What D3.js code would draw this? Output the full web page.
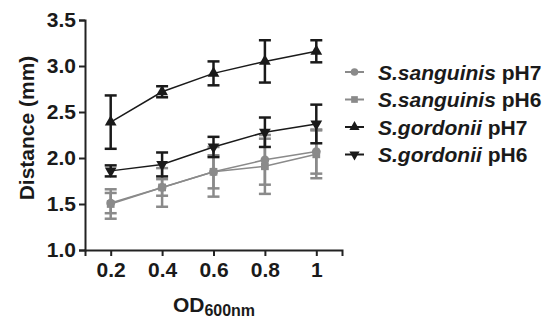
<!DOCTYPE html>
<html>
<head>
<meta charset="utf-8">
<script src="https://cdn.jsdelivr.net/npm/d3@7"></script>
<style>
  body { margin: 0; background: #fff; }
  svg text { font-family: "Liberation Sans", Arial, sans-serif; font-weight: bold; }
</style>
</head>
<body>
<svg id="chart" width="542" height="324"></svg>
<script>
var odValues = [0.2, 0.4, 0.6, 0.8, 1];
var xTickLabels = ["0.2", "0.4", "0.6", "0.8", "1"];
var yTicks = [1.0, 1.5, 2.0, 2.5, 3.0, 3.5];

var seriesNames = ["S.sanguinis", "S.sanguinis", "S.gordonii", "S.gordonii"];
var seriesPH = ["pH7", "pH6", "pH7", "pH6"];

var sanguinisPH7 = [1.51, 1.68, 1.85, 1.98, 2.07];
var sanguinisPH7Err = [0.11, 0.09, 0.18, 0.27, 0.24];
var sanguinisPH6 = [1.50, 1.68, 1.85, 1.91, 2.04];
var sanguinisPH6Err = [0.16, 0.21, 0.27, 0.30, 0.26];
var gordoniiPH7 = [2.39, 2.72, 2.92, 3.05, 3.16];
var gordoniiPH7Err = [0.29, 0.06, 0.13, 0.23, 0.12];
var gordoniiPH6 = [1.86, 1.93, 2.12, 2.28, 2.37];
var gordoniiPH6Err = [0.06, 0.13, 0.11, 0.16, 0.21];

var series = [
    {values: sanguinisPH7, err: sanguinisPH7Err, color: "#8a8a8a", symbol: d3.symbolCircle},
    {values: sanguinisPH6, err: sanguinisPH6Err, color: "#8a8a8a", symbol: d3.symbolSquare},
    {values: gordoniiPH7, err: gordoniiPH7Err, color: "#1a1a1a", symbol: d3.symbolTriangle},
    {values: gordoniiPH6, err: gordoniiPH6Err, color: "#1a1a1a", symbol: "down"}
];

var svg = d3.select("#chart");

var x = d3.scaleLinear().domain([0.1, 1.1]).range([85, 342]);
var y = d3.scaleLinear().domain([1.0, 3.5]).range([250, 20]);

// axes
var yAxis = svg.append("g")
    .attr("transform", "translate(85,0)")
    .call(d3.axisLeft(y).tickValues(yTicks).tickFormat(d3.format(".1f")).tickSize(6).tickPadding(3));
var xAxis = svg.append("g")
    .attr("transform", "translate(0,250)")
    .call(d3.axisBottom(x).tickValues(odValues).tickFormat(function(d, i) { return xTickLabels[i]; }).tickSize(6).tickPadding(6));

[yAxis, xAxis].forEach(function(a) {
    a.select(".domain").attr("stroke", "#222").attr("stroke-width", 2);
    a.selectAll(".tick line").attr("stroke", "#222").attr("stroke-width", 2);
    a.selectAll(".tick text").attr("font-size", 21).attr("fill", "#1a1a1a")
        .style("font-family", "'Liberation Sans', Arial, sans-serif").style("font-weight", "bold");
});

// axis titles
svg.append("text")
    .attr("transform", "translate(34,128) rotate(-90)")
    .attr("text-anchor", "middle")
    .attr("font-size", 21)
    .attr("fill", "#1a1a1a")
    .text("Distance (mm)");

var xt = svg.append("text")
    .attr("x", 214).attr("y", 312)
    .attr("text-anchor", "middle")
    .attr("font-size", 21)
    .attr("fill", "#1a1a1a");
xt.append("tspan").text("OD");
xt.append("tspan").attr("font-size", 16).attr("dy", 4).text("600nm");

function markerPath(s, size) {
    if (s === "down") {
        return d3.symbol().type(d3.symbolTriangle).size(size)();
    }
    return d3.symbol().type(s).size(size)();
}

var line = d3.line()
    .x(function(d, i) { return x(odValues[i]); })
    .y(function(d) { return y(d); });

series.forEach(function(s) {
    var g = svg.append("g");
    // error bars
    s.values.forEach(function(v, i) {
        var cx = x(odValues[i]);
        var top = y(v + s.err[i]), bot = y(v - s.err[i]);
        g.append("line").attr("x1", cx).attr("x2", cx).attr("y1", top).attr("y2", bot)
            .attr("stroke", s.color).attr("stroke-width", 2.5);
        [top, bot].forEach(function(yy) {
            g.append("line").attr("x1", cx - 6).attr("x2", cx + 6).attr("y1", yy).attr("y2", yy)
                .attr("stroke", s.color).attr("stroke-width", 2.5);
        });
    });
    g.append("path").datum(s.values)
        .attr("d", line)
        .attr("fill", "none")
        .attr("stroke", s.color)
        .attr("stroke-width", 1.5);
    g.selectAll("path.pt").data(s.values).enter().append("path")
        .attr("class", "pt")
        .attr("d", markerPath(s.symbol, 60))
        .attr("transform", function(d, i) {
            return "translate(" + x(odValues[i]) + "," + y(d) + ")" + (s.symbol === "down" ? " rotate(180)" : "");
        })
        .attr("fill", s.color);
});

// legend
var legend = svg.append("g");
series.forEach(function(s, i) {
    var ly = 72 + i * 27.5;
    legend.append("line").attr("x1", 345).attr("x2", 364).attr("y1", ly).attr("y2", ly)
        .attr("stroke", s.color).attr("stroke-width", 2);
    legend.append("path")
        .attr("d", markerPath(s.symbol, 45))
        .attr("transform", "translate(354.5," + ly + ")" + (s.symbol === "down" ? " rotate(180)" : ""))
        .attr("fill", s.color);
    var t = legend.append("text").attr("x", 378).attr("y", ly + 7.5)
        .attr("font-size", 21).attr("fill", "#1a1a1a");
    t.append("tspan").attr("font-style", "italic").text(seriesNames[i]);
    t.append("tspan").text(" " + seriesPH[i]);
});
</script>
</body>
</html>
